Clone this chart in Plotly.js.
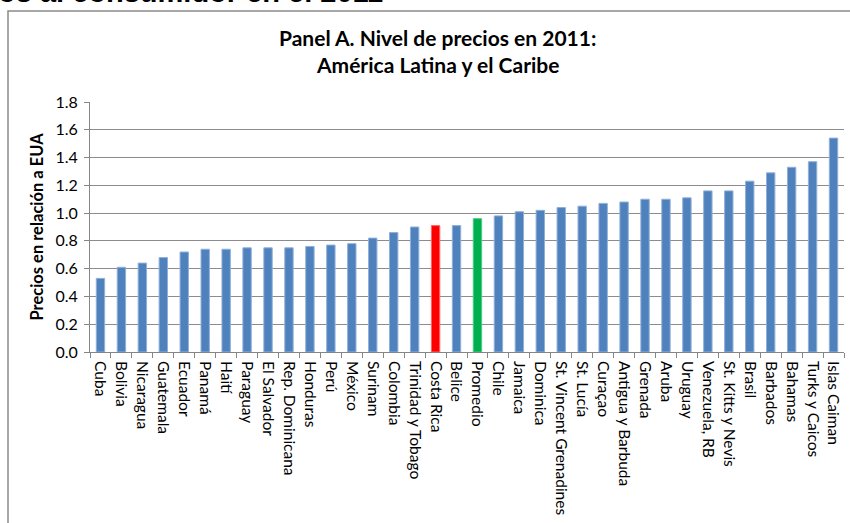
<!DOCTYPE html>
<html>
<head>
<meta charset="utf-8">
<script src="https://cdn.plot.ly/plotly-3.0.1.min.js"></script>
<style>html,body{margin:0;padding:0;background:#fff;}#chart{width:850px;height:523px;}</style>
</head>
<body>
<div id="chart"></div>
<script>
const categories = ["Cuba","Bolivia","Nicaragua","Guatemala","Ecuador","Panamá","Haití","Paraguay","El Salvador","Rep. Dominicana","Honduras","Perú","México","Surinam","Colombia","Trinidad y Tobago","Costa Rica","Belice","Promedio","Chile","Jamaica","Dominica","St. Vincent Grenadines","St. Lucía","Curaçao","Antigua y Barbuda","Grenada","Aruba","Uruguay","Venezuela, RB","St. Kitts y Nevis","Brasil","Barbados","Bahamas","Turks y Caicos","Islas Caiman"];
const values = [0.53,0.61,0.64,0.68,0.72,0.74,0.74,0.75,0.75,0.75,0.76,0.77,0.78,0.82,0.86,0.90,0.91,0.91,0.96,0.98,1.01,1.02,1.04,1.05,1.07,1.08,1.10,1.10,1.11,1.16,1.16,1.23,1.29,1.33,1.37,1.54];
const yTicks = [0,0.2,0.4,0.6,0.8,1.0,1.2,1.4,1.6,1.8];
const yTickLabels = ["0.0","0.2","0.4","0.6","0.8","1.0","1.2","1.4","1.6","1.8"];
const titleLines = ["Panel A. Nivel de precios en 2011:", "América Latina y el Caribe"];
const yTitle = "Precios en relación a EUA";
const topText = "os al consumidor en el 2011";

const colors = categories.map(c => c === "Costa Rica" ? "#FF0000" : (c === "Promedio" ? "#00B050" : "#4F81BD"));
const lineColors = categories.map(c => c === "Costa Rica" ? "#FF6666" : (c === "Promedio" ? "#4CCB80" : "#8FB0DA"));

const font = "Lato, 'Open Sans', sans-serif";

const trace = {
  type: "bar",
  x: categories,
  y: values,
  marker: {color: colors, line: {color: lineColors, width: 1}},
  hoverinfo: "x+y"
};

// paper coords: x = (px-90)/754, y = (352-py)/250
const px = v => (v - 90) / 754;
const py = v => (352 - v) / 250;

const layout = {
  width: 850, height: 523,
  margin: {l: 90, r: 6, t: 102, b: 171, pad: 0},
  paper_bgcolor: "#fff", plot_bgcolor: "#fff",
  bargap: 0.6,
  showlegend: false,
  font: {family: font, color: "#000"},
  xaxis: {
    type: "category",
    tickangle: 90,
    tickson: "boundaries",
    ticks: "outside", ticklen: 5, tickcolor: "#868686", tickwidth: 1,
    showline: true, linecolor: "#868686", linewidth: 1,
    showgrid: false,
    tickfont: {family: font, size: 15.5, color: "#000"},
    ticklabelstandoff: 5,
    automargin: false
  },
  yaxis: {
    range: [0, 1.8],
    tickvals: yTicks, ticktext: yTickLabels,
    ticks: "outside", ticklen: 5, tickcolor: "#868686",
    showline: true, linecolor: "#868686", linewidth: 1,
    showgrid: true, gridcolor: "#8C8C8C", gridwidth: 1,
    zeroline: false,
    tickfont: {family: font, size: 16, color: "#000"},
    ticklabelstandoff: 3,
    title: {text: yTitle, font: {family: font, size: 16.5, color: "#000", weight: "bold"}, standoff: 7},
    automargin: false
  },
  shapes: [{
    type: "rect", xref: "paper", yref: "paper",
    x0: px(8), x1: 1.2, y0: -0.9, y1: py(11),
    line: {color: "#8A8A8A", width: 1.5}, fillcolor: "rgba(0,0,0,0)", layer: "below"
  }],
  annotations: [
    {
      text: topText, showarrow: false,
      xref: "paper", yref: "paper",
      x: px(-4), xanchor: "left",
      y: py(-8), yanchor: "middle",
      font: {family: "'Liberation Sans', Arial, sans-serif", size: 29, color: "#000", weight: "bold"}
    },
    {
      text: titleLines[0], showarrow: false,
      xref: "paper", yref: "paper",
      x: px(437), xanchor: "center", y: py(37), yanchor: "middle",
      font: {family: font, size: 21, color: "#000", weight: "bold"}
    },
    {
      text: titleLines[1], showarrow: false,
      xref: "paper", yref: "paper",
      x: px(437), xanchor: "center", y: py(64), yanchor: "middle",
      font: {family: font, size: 21, color: "#000", weight: "bold"}
    }
  ]
};

Plotly.newPlot("chart", [trace], layout, {displayModeBar: false, staticPlot: true});
</script>
</body>
</html>
